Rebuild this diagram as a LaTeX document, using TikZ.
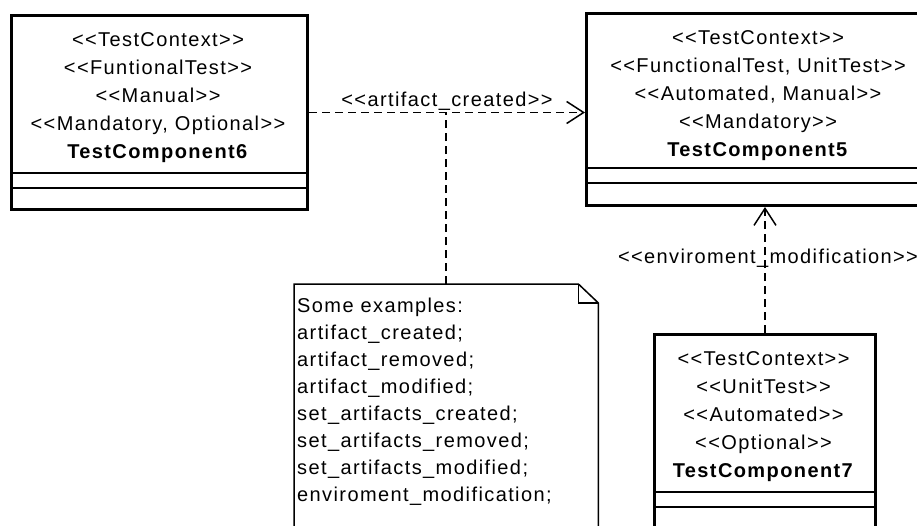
\documentclass[tikz,border=0pt]{standalone}
\usepackage{fontspec}
\setmainfont{Liberation Sans}[LetterSpace=7, Ligatures=TeXOff]
\usetikzlibrary{arrows.meta}
\usetikzlibrary{calc,positioning}

\tikzset{
  classbox/.style={draw, line width=3pt, inner sep=0pt, anchor=north west},
  stereo/.style={font=\fontsize{20}{28}\selectfont, align=center, inner sep=0pt, anchor=north},
  divider/.style={line width=1.5pt},
  dep/.style={line width=1.5pt, dash pattern=on 8pt off 5pt, -{Straight Barb[length=17pt,width=22pt]}},
  notelink/.style={line width=1.5pt, dash pattern=on 8pt off 5pt},
  noteline/.style={line width=1.5pt},
  notetext/.style={font=\fontsize{20}{27}\selectfont, align=left, inner sep=0pt, anchor=north west},
  deplabel/.style={font=\fontsize{20}{24}\selectfont, inner sep=0pt, anchor=base},
}

\begin{document}
\begin{tikzpicture}[x=1pt,y=-1pt]
  \useasboundingbox (0,0) rectangle (917,525);
  \clip (0,0) rectangle (917,525);
  \fill[white] (0,0) rectangle (917,525);

  % the three test components
  \node[classbox, minimum width=296pt, minimum height=194pt] (tc6) at (10,14) {};
  \node[stereo] (tc6text) at (158,32)
    {<<TestContext>>\\<<FuntionalTest>>\\<<Manual>>\\<<Mandatory, Optional>>\\\textbf{TestComponent6}};
  \foreach \y in {173,188}
    \draw[divider] (tc6.west |- 0,\y) -- (tc6.east |- 0,\y);

  \node[classbox, minimum width=346pt, minimum height=192pt] (tc5) at (585,12) {};
  \node[stereo] (tc5text) at (758,30)
    {<<TestContext>>\\<<FunctionalTest, UnitTest>>\\<<Automated, Manual>>\\<<Mandatory>>\\\textbf{TestComponent5}};
  \foreach \y in {168,183}
    \draw[divider] (tc5.west |- 0,\y) -- (tc5.east |- 0,\y);

  \node[classbox, minimum width=221pt, minimum height=195pt] (tc7) at (653,333) {};
  \node[stereo] (tc7text) at (763.5,351)
    {<<TestContext>>\\<<UnitTest>>\\<<Automated>>\\<<Optional>>\\\textbf{TestComponent7}};
  \foreach \y in {492,507}
    \draw[divider] (tc7.west |- 0,\y) -- (tc7.east |- 0,\y);

  % note
  \node[inner sep=0pt, minimum width=304pt, minimum height=262pt, anchor=north west] (note) at (294,284) {};
  \draw[noteline] (note.south west) -- (note.north west) -- ([xshift=-20pt]note.north east)
    -- ([yshift=-19pt]note.north east) -- (note.south east);
  \draw[noteline] ([xshift=-20pt]note.north east) |- ([yshift=-19pt]note.north east);
  \node[notetext] (notetext) at (297,297.5)
    {Some examples:\\artifact\_created;\\artifact\_removed;\\artifact\_modified;\\set\_artifacts\_created;\\set\_artifacts\_removed;\\set\_artifacts\_modified;\\enviroment\_modification;};

  % dependencies
  \draw[dep] (tc6.east) -- (tc6.east -| tc5.west)
    node[deplabel, midway, yshift=6pt] {<<artifact\_created>>};
  \draw[notelink] (note.north) -- (note.north |- tc6.east);
  \draw[dep] (tc7.north) -- (tc7.north |- tc5.south)
    node[deplabel, pos=0.55, xshift=3pt] {<<enviroment\_modification>>};
\end{tikzpicture}
\end{document}
